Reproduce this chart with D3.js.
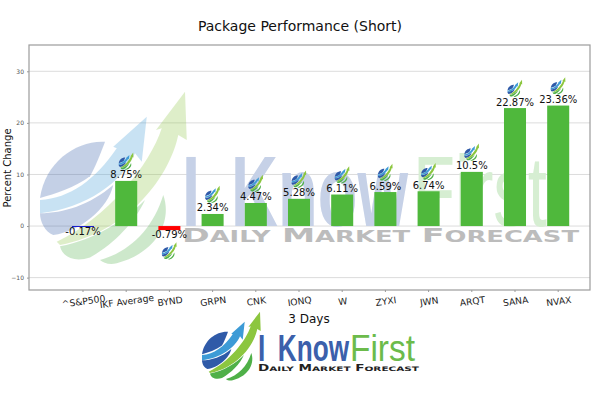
<!DOCTYPE html>
<html>
<head>
<meta charset="utf-8">
<script src="https://cdn.jsdelivr.net/npm/d3@7"></script>
<style>
  html, body { margin: 0; padding: 0; background: #fff; }
  svg { display: block; }
  text { font-family: "DejaVu Sans", sans-serif; }
</style>
</head>
<body>
<div class="canvas"></div>
<script>
// chart values
const tickers = ["^S&P500", "IKF Average", "BYND", "GRPN", "CNK", "IONQ", "W", "ZYXI", "JWN", "ARQT", "SANA", "NVAX"];
const changes = [-0.17, 8.75, -0.79, 2.34, 4.47, 5.28, 6.11, 6.59, 6.74, 10.5, 22.87, 23.36];
const labels = ["-0.17%", "8.75%", "-0.79%", "2.34%", "4.47%", "5.28%", "6.11%", "6.59%", "6.74%", "10.5%", "22.87%", "23.36%"];
const yTicks = [-10, 0, 10, 20, 30];
const yDomain = [-12.4, 35.1];

const width = 612;
const height = 396;
const margins = { top: 45, left: 29, bottom: 106, right: 22 };
const graphWidth = width - margins.left - margins.right;
const graphHeight = height - margins.top - margins.bottom;

const svg = d3.select(".canvas")
    .append("svg")
    .attr("width", width)
    .attr("height", height);

// the logo mark, reused for watermark, footer and bar icons
const defs = svg.append("defs");
const logo = defs.append("g").attr("id", "logo-mark");
const logoParts = [
    ["#2f5aa8", "M30,22.7 C18.7,22 6,30.7 4,45.2 C10,43.5 18,41 24,36.5 C26,33 28,28 30,22.7 Z"],
    ["#3d9bd6", "M4,46 C16,45.3 26,38 34.7,25.3 L33.3,24.7 L46.7,12.7 L44.7,30.7 L42,27.3 C37,38.7 22.7,49.3 4,51.3 Z"],
    ["#2f5aa8", "M4,51.3 C13.3,51.3 24,48 33.3,40 C31.3,49.3 20,58.7 9.3,60 C6,58.7 4,54.7 4,51.3 Z"],
    ["#8cc63f", "M10.7,62.7 C30.7,53.3 48,32 52.7,17.3 L50.4,18 L62,2.7 L62.7,22 L59.3,20 C56,36 40,58.7 12,64 Z"],
    ["#4fb048", "M12,64.5 C26,62 38,54 46,46 C42,55 33,64 24,69 C18,71 13,69 12,64.5 Z"],
    ["#4fb048", "M28,70 C40,66.7 49.3,57.3 53.3,44 C56.7,53.3 52,66.7 34.7,71.3 C32,72 29.3,71.3 28,70 Z"]
];
logo.selectAll("path")
    .data(logoParts)
    .enter().append("path")
    .attr("fill", d => d[0])
    .attr("d", d => d[1]);

const graph = svg.append("g")
    .attr("transform", "translate(" + margins.left + "," + margins.top + ")");

// scale
const x = d3.scaleBand()
    .domain(tickers)
    .range([32.4, 550.8])
    .paddingInner(0.49)
    .paddingOuter(0.245);

const y = d3.scaleLinear()
    .domain(yDomain)
    .range([graphHeight, 0]);

// grid
graph.append("g")
    .selectAll("line")
    .data(yTicks)
    .enter().append("line")
    .attr("x1", 0)
    .attr("x2", graphWidth)
    .attr("y1", d => y(d))
    .attr("y2", d => y(d))
    .attr("stroke", "#dcdcdc")
    .attr("stroke-width", 1);

// watermark sits over the grid and under the bars
const mark = svg.append("g");
mark.append("use")
    .attr("href", "#logo-mark")
    .attr("opacity", 0.28)
    .attr("transform", "translate(30,85) scale(2.5)");

function wordmark(g, px, base, size, w1, gap, w2, blue, green) {
    g.append("text")
        .attr("x", px).attr("y", base)
        .attr("style", "font-family:'Liberation Sans Narrow','Liberation Sans',sans-serif;word-spacing:0.2em")
        .attr("font-weight", "bold").attr("font-size", size)
        .attr("textLength", w1).attr("lengthAdjust", "spacingAndGlyphs")
        .attr("fill", blue).text("I Know");
    g.append("text")
        .attr("x", px + w1 + gap).attr("y", base)
        .attr("style", "font-family:'Liberation Sans Narrow','Liberation Sans',sans-serif")
        .attr("font-size", size)
        .attr("textLength", w2).attr("lengthAdjust", "spacingAndGlyphs")
        .attr("fill", green).text("First");
}

function tagline(g, px, base, big, small, w, fill) {
    const t = g.append("text")
        .attr("x", px).attr("y", base)
        .attr("font-weight", "bold")
        .attr("font-size", small)
        .attr("textLength", w).attr("lengthAdjust", "spacingAndGlyphs")
        .attr("fill", fill);
    ["Daily", "Market", "Forecast"].forEach((word, i) => {
        t.append("tspan").attr("font-size", big).text((i ? " " : "") + word[0]);
        t.append("tspan").text(word.slice(1).toUpperCase());
    });
}

wordmark(mark, 182, 226, 101, 226, 5, 134, "#c6d1e7", "#d6eed2");
tagline(mark, 182, 242, 20, 15.5, 397, "#bcbcbc");

// bars
const bars = svg.append("g").attr("transform", "translate(" + margins.left + "," + margins.top + ")");
bars.selectAll("rect")
    .data(changes)
    .enter().append("rect")
    .attr("x", (d, i) => x(tickers[i]))
    .attr("width", x.bandwidth())
    .attr("y", d => y(Math.max(d, 0)))
    .attr("height", d => Math.abs(y(d) - y(0)))
    .attr("fill", (d, i) => i === 0 ? "#0000cc" : d < 0 ? "#ff0000" : "#4fb83c");

// value labels
bars.selectAll("text.value")
    .data(changes)
    .enter().append("text")
    .attr("class", "value")
    .attr("x", (d, i) => x(tickers[i]) + x.bandwidth() / 2)
    .attr("y", d => d < 0 ? y(d) + 8 : y(d) - 2.5)
    .attr("text-anchor", "middle")
    .attr("font-size", 10)
    .attr("fill", "#111")
    .text((d, i) => labels[i]);

// small logo above or below every label, the index has none
bars.selectAll("use.icon")
    .data(changes.map((d, i) => ({ name: tickers[i], value: d })).slice(1))
    .enter().append("use")
    .attr("class", "icon")
    .attr("href", "#logo-mark")
    .attr("transform", d => {
        const cx = x(d.name) + x.bandwidth() / 2;
        const top = d.value < 0 ? y(d.value) + 11.5 : y(d.value) - 29;
        return "translate(" + (cx - 8.5) + "," + top + ") scale(0.25)";
    });

// axes
const yAxis = d3.axisLeft(y).tickValues(yTicks).tickSize(2).tickPadding(3)
    .tickFormat(d => d < 0 ? "\u2212" + Math.abs(d) : d);
const xAxis = d3.axisBottom(x).tickSize(2).tickPadding(5);

const yAxisGroup = graph.append("g").call(yAxis);
yAxisGroup.select(".domain").remove();
yAxisGroup.selectAll("text").attr("font-size", 6).attr("fill", "#555").style("font-family", "'DejaVu Sans'");
yAxisGroup.selectAll("line").attr("stroke", "#999");

const xAxisGroup = graph.append("g")
    .attr("transform", "translate(0," + graphHeight + ")")
    .call(xAxis);
xAxisGroup.select(".domain").remove();
xAxisGroup.selectAll("line").attr("stroke", "#999");
xAxisGroup.selectAll("text")
    .attr("font-size", 9.2)
    .attr("fill", "#222")
    .style("font-family", "'DejaVu Sans'")
    .attr("transform", "rotate(-8) translate(-1,1)");

// frame
graph.append("rect")
    .attr("width", graphWidth)
    .attr("height", graphHeight)
    .attr("fill", "none")
    .attr("stroke", "#9c9c9c")
    .attr("stroke-width", 1.2);

// titles
svg.append("text")
    .attr("x", 300).attr("y", 31)
    .attr("text-anchor", "middle")
    .attr("font-size", 14)
    .attr("fill", "#111")
    .text("Package Performance (Short)");

svg.append("text")
    .attr("x", 309).attr("y", 323)
    .attr("text-anchor", "middle")
    .attr("font-size", 12)
    .attr("fill", "#111")
    .text("3 Days");

svg.append("text")
    .attr("transform", "translate(11,168) rotate(-90)")
    .attr("text-anchor", "middle")
    .attr("font-size", 10)
    .attr("fill", "#111")
    .text("Percent Change");

// footer logo
const footer = svg.append("g");
footer.append("use")
    .attr("href", "#logo-mark")
    .attr("transform", "translate(198,309)");
wordmark(footer, 258, 361, 36, 91, 1, 65, "#3b60ab", "#6cbb4b");
tagline(footer, 258, 371, 8, 6.2, 161, "#222");
</script>
</body>
</html>
